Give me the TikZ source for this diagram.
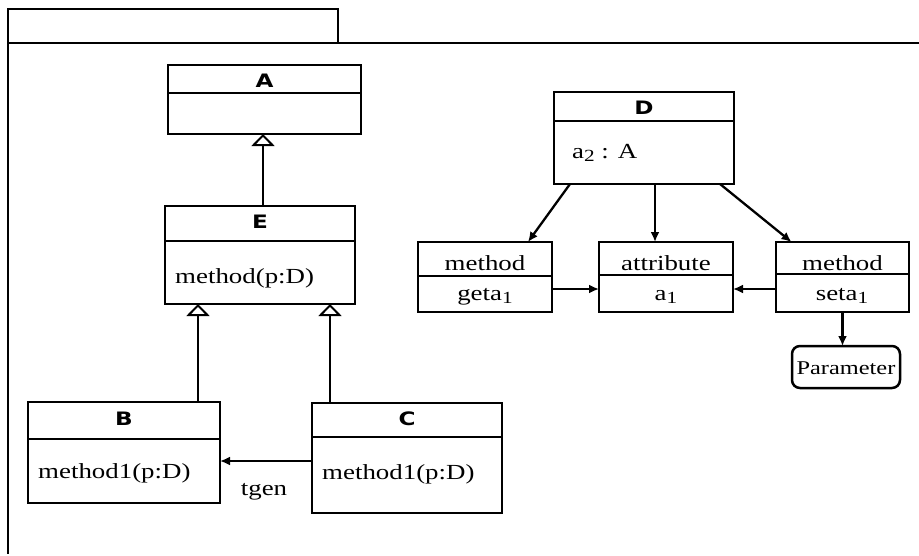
\documentclass[tikz,border=0pt]{standalone}
\usepackage{graphicx}
\usepackage{fontspec}
\setmainfont{Liberation Serif}
\newfontfamily\headfont{DejaVu Sans}
\usetikzlibrary{arrows.meta,calc}

% widened lettering used throughout the diagram
\newcommand\wtxt[1]{\scalebox{1.25}[1]{#1}}
% lowered index digit
\newcommand\idx[1]{\raisebox{-0.4ex}{\fontsize{17}{17}\selectfont #1}}

% class box: [title style]{name}{x1}{y1}{x2}{y2}{divider y}{title}{title baseline}
\newcommand\umlbox[9][head]{%
  \node[cbox, minimum width={#5-#3}, minimum height={#6-#4}] (#2) at ({(#3+#5)/2},{(#4+#6)/2}) {};
  \draw[line width=2.5pt] ($(#2.north west)+(0,#7-#4)$) -- ($(#2.north east)+(0,#7-#4)$);
  \node[#1, anchor=base] (#2-head) at ({(#3+#5)/2},#9) {\wtxt{#8}};
}

\tikzset{
  cbox/.style={draw, rectangle, line width=2.5pt, inner sep=0pt, outer sep=0pt},
  head/.style={font=\headfont\bfseries\fontsize{18.5}{20}\selectfont, inner sep=0pt},
  shead/.style={font=\fontsize{21.5}{24}\selectfont, inner sep=0pt},
  body/.style={font=\fontsize{21.5}{24}\selectfont, inner sep=0pt},
  gen/.style={line width=2.3pt, -{Triangle[open, length=12pt, width=23pt, line width=2pt]}},
  dep/.style={line width=2.3pt, -{Latex[length=10pt, width=9pt]}},
}

\begin{document}
\begin{tikzpicture}[x=1pt, y=-1pt]
\useasboundingbox[fill=white] (0,0) rectangle (919,555);

% package frame with its tab
\node[cbox, minimum width=330, minimum height=34] (tab) at (173,26) {};
\draw[line width=2.5pt] (tab.south west) -- ++(911,0);
\draw[line width=2.5pt] (tab.north west) -- ++(0,545);

% inheritance part
\umlbox{A}{168}{65}{361}{134}{93}{A}{87}
\umlbox{E}{165}{206}{355}{304}{241}{E}{228}
\node[body, anchor=base west] (E-op) at (175,283) {\wtxt{method(p:D)}};
\umlbox{B}{28}{402}{220}{503}{439}{B}{425}
\node[body, anchor=base west] (B-op) at (38,478) {\wtxt{method1(p:D)}};
\umlbox{C}{312}{403}{502}{513}{437}{C}{425}
\node[body, anchor=base west] (C-op) at (322,479) {\wtxt{method1(p:D)}};

\coordinate (eu) at ([xshift=3pt]E.north);
\coordinate (bu) at ([xshift=74pt]B.north);
\coordinate (cu) at ([xshift=-77pt]C.north);
\draw[gen] (eu) -- (A.south -| eu);
\draw[gen] (bu) -- (E.south -| bu);
\draw[gen] (cu) -- (E.south -| cu);

\coordinate (tg) at ($(C.north west)+(0,58)$);
\draw[dep] (tg) -- (B.east |- tg);
\node[body, anchor=base] (tgen) at (264,495) {\wtxt{tgen}};

% structure part
\umlbox{D}{554}{92}{734}{184}{121}{D}{114}
\node[body, anchor=base west] (D-at) at (572,158) {\wtxt{a\idx{2} : A}};

\umlbox[shead]{get}{418}{242}{552}{312}{276}{method}{270}
\node[body, anchor=base] (get-op) at (485,300) {\wtxt{geta\idx{1}}};
\umlbox[shead]{att}{599}{242}{733}{312}{275}{attribute}{270}
\node[body, anchor=base] (att-val) at (666,300) {\wtxt{a\idx{1}}};
\umlbox[shead]{set}{776}{242}{909}{312}{274}{method}{270}
\node[body, anchor=base] (set-op) at (842,300) {\wtxt{seta\idx{1}}};

\node[draw, line width=2.5pt, rounded corners=8pt, minimum width=108, minimum height=42,
      inner sep=0pt, outer sep=0pt] (par) at (846,367) {};
\node[body, font=\fontsize{19.5}{22}\selectfont, anchor=base] (par-txt) at (846,374) {\wtxt{Parameter}};

\coordinate (dm) at ([xshift=11pt]D.south);
\draw[dep] ([xshift=-74pt]D.south) -- ([xshift=43pt]get.north);
\draw[dep] (dm) -- (att.north -| dm);
\draw[dep] ([xshift=76pt]D.south) -- ([xshift=-51pt]set.north);

\coordinate (gx) at ($(get.north east)+(0,47)$);
\draw[dep] (gx) -- (att.west |- gx);
\draw[dep] (set.west |- gx) -- (att.east |- gx);
\draw[dep] (set.south) -- (par.north -| set.south);
\end{tikzpicture}
\end{document}
